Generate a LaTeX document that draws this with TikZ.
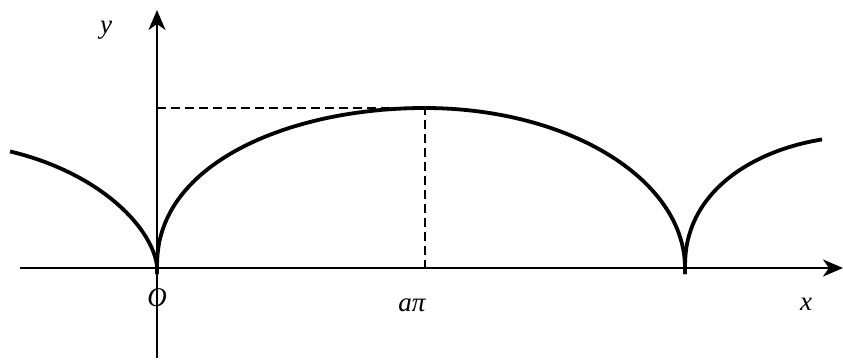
\documentclass[tikz,border=0pt]{standalone}
\usepackage{fontspec}
\setmainfont{Liberation Serif}
\usetikzlibrary{arrows.meta}
\tikzset{
  axis/.style={line width=2.6pt,-{Stealth[length=20pt,width=17pt,inset=6pt]}},
  curve/.style={line width=3.8pt},
  guide/.style={line width=1.7pt,dash pattern=on 9pt off 5pt},
  lab/.style={font=\itshape\fontsize{27}{29}\selectfont,inner sep=0pt}
}
\begin{document}
\begin{tikzpicture}[x=1pt,y=-1pt]
\useasboundingbox (0,0) rectangle (843,359);
% key points
\coordinate (xs) at (20,268);
\coordinate (xe) at (843,268);
\coordinate (ys) at (157,358);
\coordinate (ye) at (157,10);
\coordinate (c0) at (157,274);
\coordinate (c1) at (685,274);
\coordinate (top) at (425,108);
\coordinate (topy) at (157,108);
\coordinate (topx) at (425,268);
% axes
\draw[axis] (xs) -- (xe);
\draw[axis] (ys) -- (ye);
% dashed guides
\draw[guide] (topy) -- (top) -- (topx);
% curve: left partial arch
\draw[curve] plot[domain=70.6:0.5,samples=90,variable=\t] ({-63+220*cos(\t)},{268-125*sin(\t)^1.2}) -- (c0);
% main arch, left half
\draw[curve] (c0) -- plot[domain=0.5:90,samples=120,variable=\t] ({425-268*cos(\t)},{268-160*sin(\t)^0.9});
% main arch, right half
\draw[curve] plot[domain=90:179.5,samples=120,variable=\t] ({425-260*cos(\t)},{268-160*sin(\t)}) -- (c1);
% right partial arch
\draw[curve] (c1) -- plot[domain=0.5:76.2,samples=90,variable=\t] ({865-180*cos(\t)},{268-132*sin(\t)^0.9});
% labels
\node[lab] (ly) at (106,30) {y};
\node[lab] (lo) at (157,298) {O};
\node[lab] (lapi) at (412,305) {aπ};
\node[lab] (lx) at (806,304) {x};
\end{tikzpicture}
\end{document}
